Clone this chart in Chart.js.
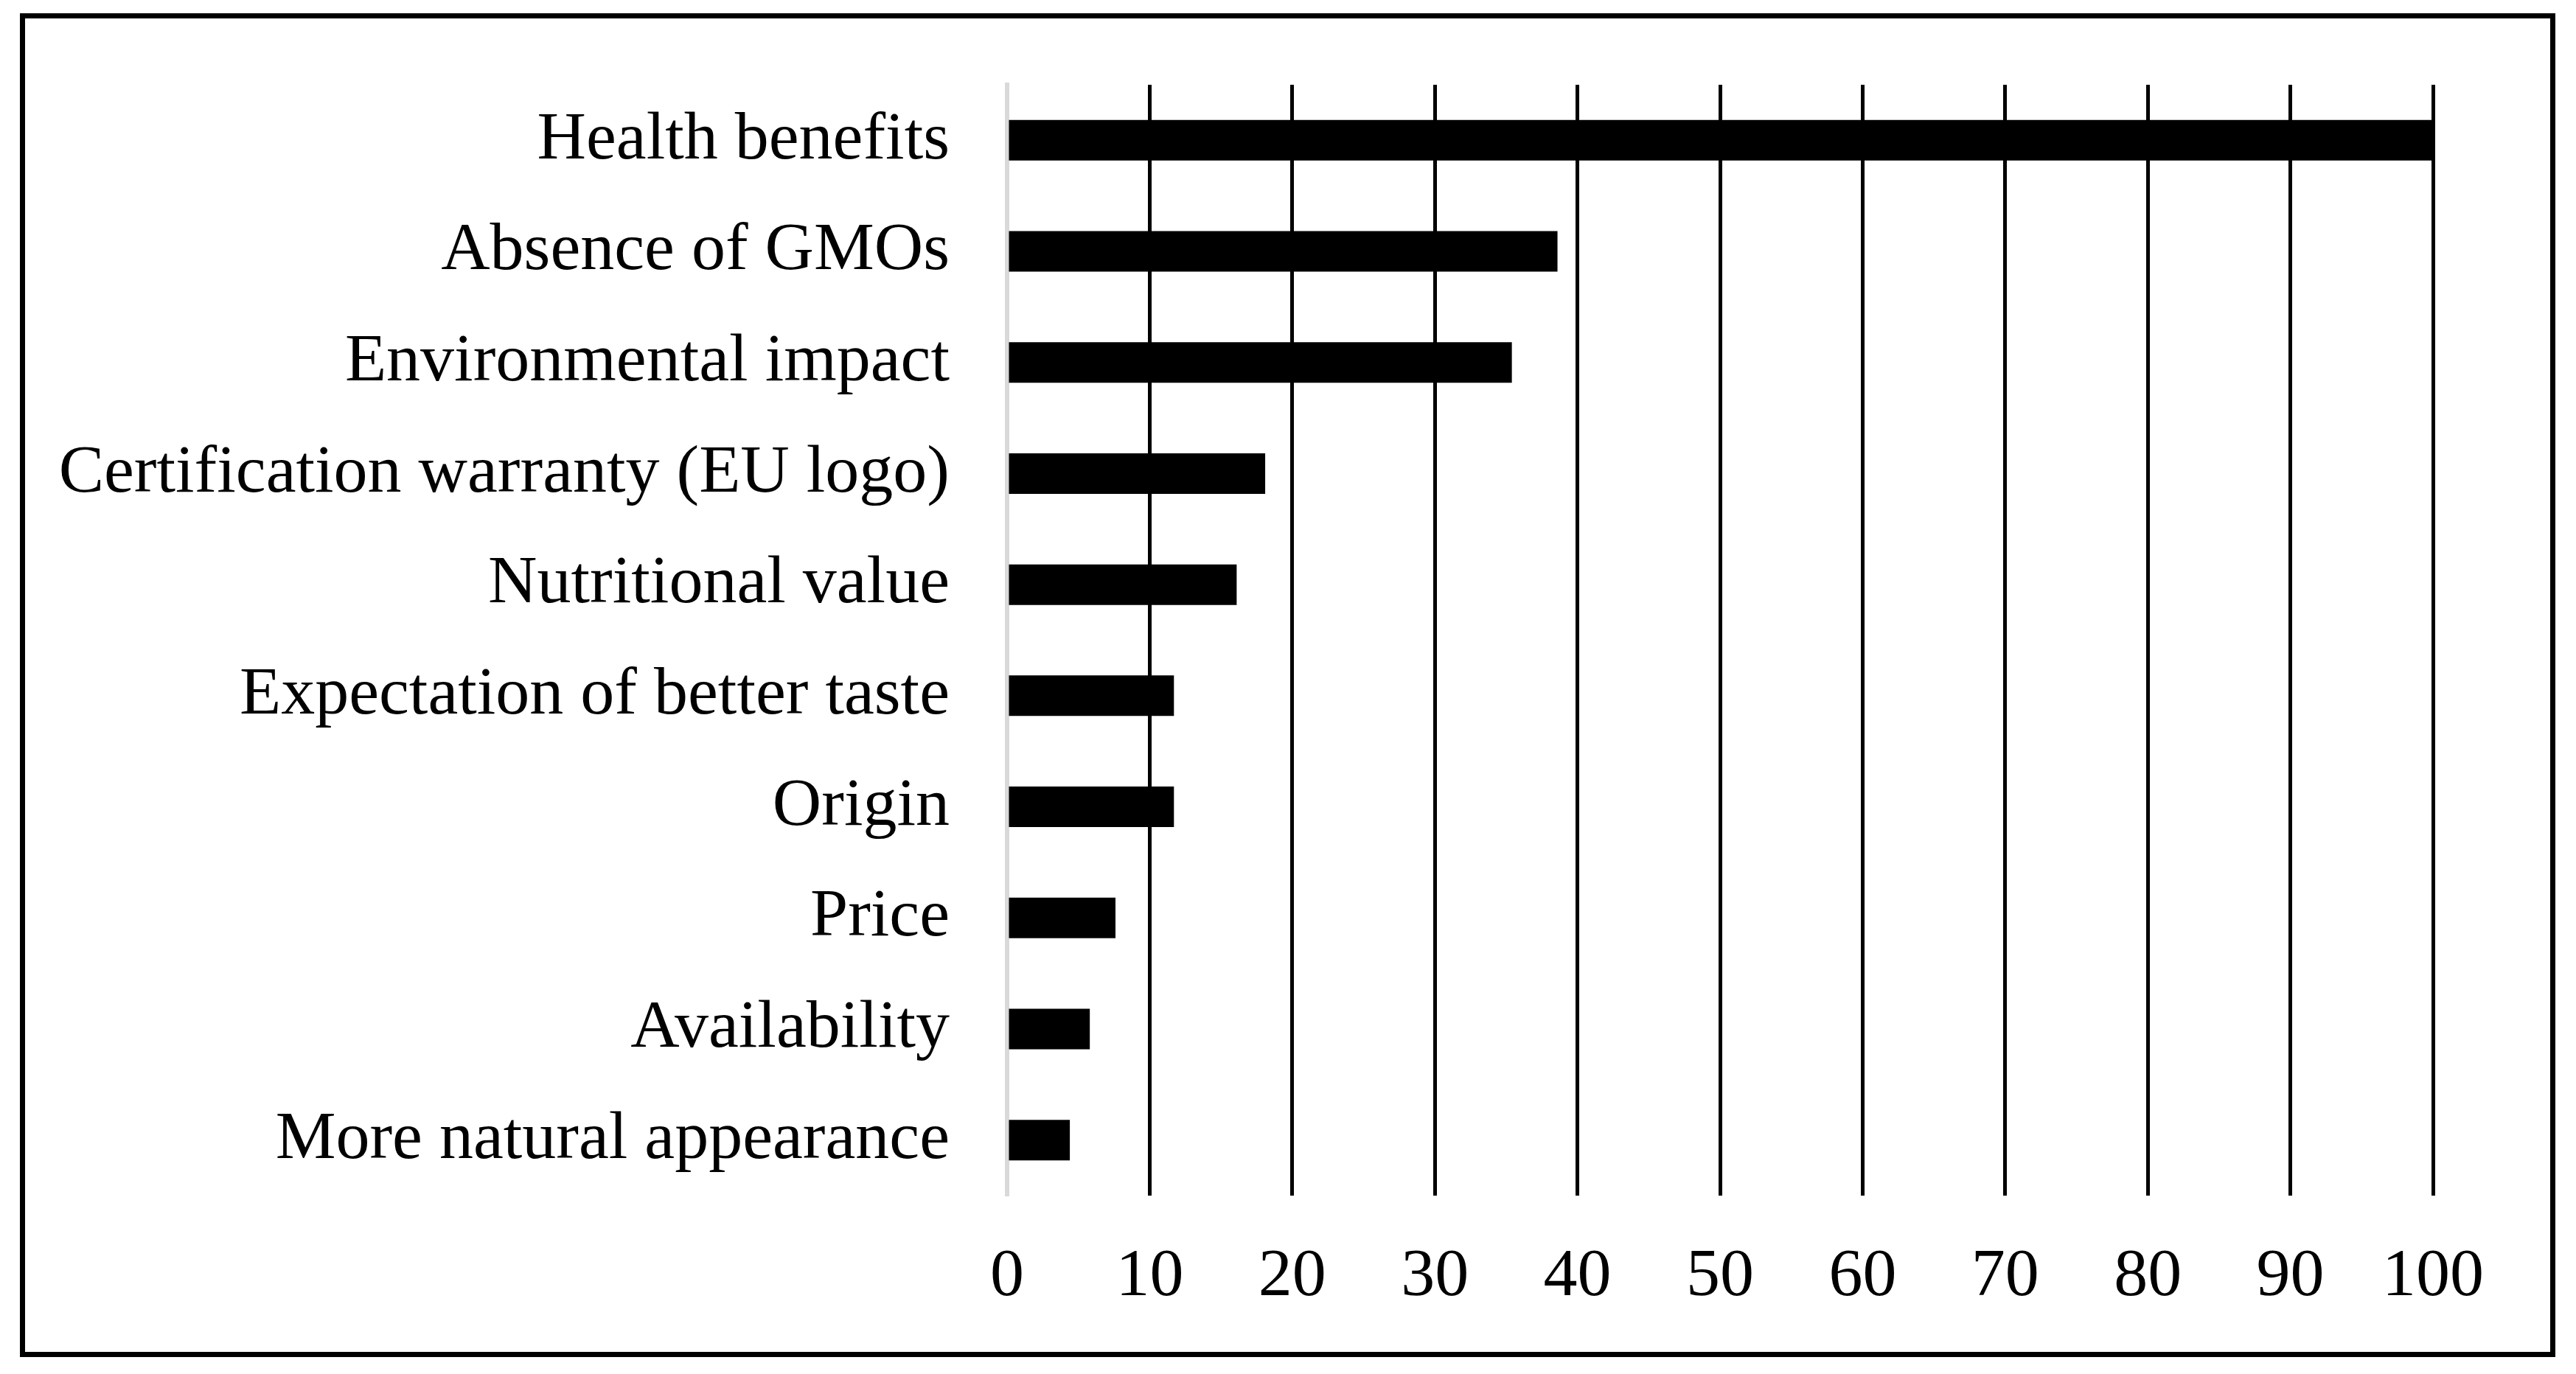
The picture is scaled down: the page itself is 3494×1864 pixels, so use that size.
<!DOCTYPE html>
<html>
<head>
<meta charset="utf-8">
<script src="https://cdn.jsdelivr.net/npm/chart.js@4"></script>
<style>
    html, body { margin: 0; padding: 0; background: #fff; }
    #wrap { position: relative; width: 3494px; height: 1864px; overflow: hidden; }
    #frame {
        position: absolute;
        left: 27px;
        top: 18px;
        width: 3425px;
        height: 1809px;
        border: 7px solid #000;
    }
    #chart { position: absolute; left: 0; top: 0; }
</style>
</head>
<body>
<div id="wrap">
    <div id="frame"></div>
    <canvas id="chart" width="3494" height="1864"></canvas>
</div>
<script>
const categories = [
    'Health benefits',
    'Absence of GMOs',
    'Environmental impact',
    'Certification warranty (EU logo)',
    'Nutritional value',
    'Expectation of better taste',
    'Origin',
    'Price',
    'Availability',
    'More natural appearance',
];
const values = [100, 38.6, 35.4, 18.1, 16.1, 11.7, 11.7, 7.6, 5.8, 4.4];
const xTicks = [0, 10, 20, 30, 40, 50, 60, 70, 80, 90, 100];

const font = { family: "'Liberation Serif', 'Times New Roman', serif", size: 92 };

new Chart(document.getElementById('chart'), {
    type: 'bar',
    data: {
        labels: categories,
        datasets: [{
            data: values,
            backgroundColor: '#000',
            borderWidth: 0,
            barPercentage: 0.365,
            categoryPercentage: 1,
        }],
    },
    options: {
        indexAxis: 'y',
        responsive: false,
        devicePixelRatio: 1,
        animation: false,
        layout: {
            padding: { left: 0, right: 194, top: 115, bottom: 0 },
        },
        plugins: {
            legend: { display: false },
            tooltip: { enabled: false },
        },
        scales: {
            x: {
                min: xTicks[0],
                max: xTicks[xTicks.length - 1],
                afterBuildTicks: (scale) => {
                    scale.ticks = xTicks.map((v) => ({ value: v }));
                },
                afterFit: (scale) => {
                    scale.height = 242;
                },
                ticks: {
                    color: '#000',
                    font: font,
                    padding: 56,
                },
                grid: {
                    color: (ctx) => (ctx.index === 0 ? 'rgba(0,0,0,0)' : '#000'),
                    lineWidth: 5,
                    drawTicks: false,
                },
                border: { display: false },
            },
            y: {
                // label padding would otherwise also push the plot down
                afterFit: (scale) => {
                    scale.width = 1366;
                    scale.paddingTop = 0;
                    scale.paddingBottom = 0;
                },
                ticks: {
                    color: '#000',
                    font: font,
                    padding: 78,
                },
                grid: { display: false, drawTicks: false },
                border: { color: '#d9d9d9', width: 6 },
            },
        },
    },
});
</script>
</body>
</html>
